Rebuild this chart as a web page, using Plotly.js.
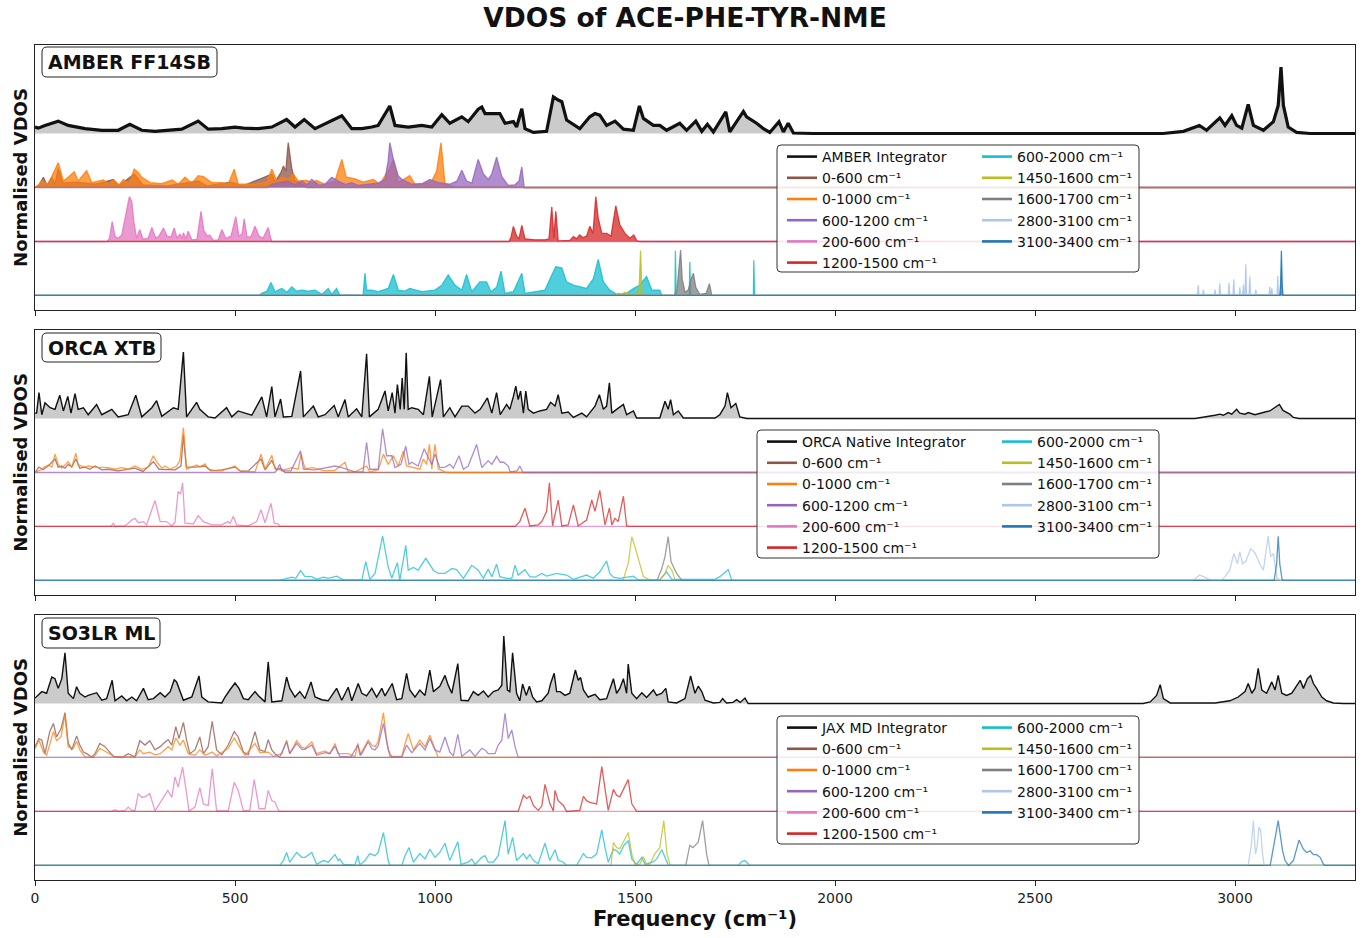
<!DOCTYPE html>
<html><head><meta charset="utf-8">
<script src="https://cdn.plot.ly/plotly-3.0.1.min.js"></script>
<style>html,body{margin:0;padding:0;background:#fff}#chart{width:1370px;height:938px}</style>
</head><body><div id="chart"></div>
<script>
// ---------------- DATA (frequency cm^-1, normalised VDOS) ----------------
const xTicks = [0, 500, 1000, 1500, 2000, 2500, 3000];
const panelNames = ['AMBER FF14SB', 'ORCA XTB', 'SO3LR ML'];
const integratorNames = ['AMBER Integrator', 'ORCA Native Integrator', 'JAX MD Integrator'];
const bandLabels = ['0-600 cm⁻¹', '0-1000 cm⁻¹', '600-1200 cm⁻¹', '200-600 cm⁻¹', '1200-1500 cm⁻¹',
  '600-2000 cm⁻¹', '1450-1600 cm⁻¹', '1600-1700 cm⁻¹', '2800-3100 cm⁻¹', '3100-3400 cm⁻¹'];
const bandColors = ['#8c564b', '#ff7f0e', '#9467bd', '#e377c2', '#d62728',
  '#17becf', '#bcbd22', '#7f7f7f', '#aec7e8', '#1f77b4'];

// ---- AMBER FF14SB ----
const amberIntegrator = [[0,0.12],[8,0.10],[25,0.15],[58,0.23],[83,0.15],[125,0.09],[167,0.06],[208,0.06],[237,0.17],[267,0.06],[300,0.04],[333,0.06],[367,0.08],[408,0.23],[433,0.08],[467,0.09],[500,0.12],[521,0.10],[558,0.09],[592,0.12],[629,0.26],[650,0.12],[673,0.26],[700,0.09],[737,0.23],[767,0.33],[792,0.09],[817,0.09],[842,0.12],[858,0.15],[887,0.51],[900,0.15],[933,0.12],[967,0.15],[992,0.12],[1017,0.35],[1037,0.19],[1067,0.31],[1083,0.22],[1108,0.45],[1117,0.49],[1125,0.37],[1146,0.37],[1162,0.37],[1175,0.19],[1196,0.22],[1204,0.12],[1217,0.46],[1225,0.09],[1246,0.02],[1279,0.04],[1296,0.68],[1308,0.62],[1317,0.59],[1329,0.25],[1362,0.09],[1387,0.31],[1400,0.37],[1412,0.34],[1429,0.15],[1450,0.23],[1471,0.08],[1496,0.06],[1511,0.51],[1521,0.28],[1546,0.15],[1562,0.15],[1579,0.06],[1612,0.19],[1629,0.06],[1652,0.23],[1667,0.04],[1681,0.17],[1696,0.03],[1727,0.40],[1737,0.03],[1771,0.41],[1779,0.31],[1804,0.19],[1821,0.09],[1837,0.02],[1860,0.22],[1871,0.03],[1883,0.19],[1896,0.01],[1946,0],[2820,0],[2871,0.04],[2911,0.15],[2929,0.06],[2962,0.29],[2975,0.15],[2992,0.33],[3004,0.15],[3017,0.10],[3033,0.54],[3046,0.15],[3071,0.06],[3096,0.22],[3108,0.52],[3115,1.23],[3121,0.52],[3133,0.12],[3154,0.02],[3188,0],[3300,0]];
const amber0_600 = [[0,0],[10,0.05],[21,0.19],[30,0.04],[42,0.19],[50,0.06],[58,0.35],[70,0.08],[100,0.1],[150,0.06],[196,0.15],[210,0.03],[248,0.25],[270,0.05],[330,0.03],[408,0.12],[430,0.03],[490,0.1],[520,0.03],[592,0.25],[600,0.1],[608,0.2],[615,0.28],[621,0.40],[627,0.3],[633,0.83],[638,0.5],[642,0.35],[650,0.12],[660,0.1],[680,0],[3300,0]];
const amber0_1000 = [[0,0],[10,0.05],[17,0.12],[33,0.06],[58,0.46],[71,0.12],[83,0.19],[98,0.29],[108,0.12],[129,0.31],[142,0.09],[171,0.14],[185,0.05],[196,0.14],[210,0.05],[221,0.15],[235,0.06],[248,0.34],[258,0.28],[267,0.19],[288,0.09],[317,0.07],[343,0.14],[358,0.06],[375,0.19],[392,0.08],[408,0.22],[421,0.2],[442,0.09],[467,0.09],[483,0.06],[498,0.34],[508,0.06],[550,0.06],[580,0.1],[592,0.34],[605,0.12],[617,0.19],[633,0.15],[646,0.25],[658,0.12],[680,0.13],[692,0.09],[704,0.13],[725,0.06],[750,0.12],[767,0.52],[778,0.19],[800,0.16],[820,0.1],[846,0.15],[862,0.06],[875,0.22],[887,0.35],[896,0.52],[908,0.09],[937,0.22],[950,0.06],[967,0.06],[992,0.12],[1004,0.3],[1015,0.83],[1025,0.06],[1050,0.01],[1200,0.01],[1225,0],[3300,0]];
const amber600_1200 = [[0,0],[580,0],[592,0.06],[608,0.09],[633,0.12],[650,0.05],[667,0.12],[680,0.05],[692,0.15],[710,0.04],[725,0.06],[742,0.19],[758,0.12],[775,0.06],[792,0.09],[808,0.04],[833,0.06],[858,0.08],[875,0.15],[883,0.49],[887,0.83],[896,0.52],[908,0.22],[917,0.15],[942,0.06],[967,0.07],[987,0.15],[1008,0.09],[1037,0.06],[1055,0.12],[1067,0.32],[1079,0.12],[1092,0.08],[1108,0.52],[1121,0.25],[1133,0.15],[1142,0.25],[1154,0.56],[1167,0.2],[1183,0.04],[1200,0.05],[1210,0.12],[1217,0.38],[1223,0],[3300,0]];
const amber200_600 = [[0,0],[180,0],[186,0.05],[193,0.37],[200,0.09],[208,0.06],[217,0.12],[227,0.49],[231,0.6],[236,0.83],[242,0.74],[247,0.37],[254,0.06],[262,0.22],[270,0.04],[283,0.06],[292,0.26],[302,0.06],[310,0.1],[321,0.25],[330,0.1],[340,0.08],[348,0.25],[355,0.06],[363,0.14],[368,0.05],[371,0.16],[377,0.05],[383,0.19],[392,0.03],[405,0.04],[415,0.56],[422,0.2],[431,0.1],[437,0.12],[446,0.02],[458,0.03],[467,0.22],[477,0.06],[490,0.1],[502,0.46],[510,0.09],[518,0.15],[523,0.42],[530,0.08],[540,0.09],[550,0.28],[560,0.1],[570,0.06],[583,0.26],[588,0.1],[592,0],[3300,0]];
const amber1200_1500 = [[0,0],[1185,0],[1190,0.08],[1196,0.28],[1204,0.1],[1210,0.05],[1217,0.3],[1225,0.05],[1250,0.03],[1275,0.03],[1285,0.05],[1292,0.64],[1297,0.06],[1302,0.56],[1308,0.01],[1337,0.02],[1346,0.09],[1354,0.05],[1362,0.12],[1370,0.07],[1379,0.1],[1387,0.28],[1395,0.15],[1402,0.83],[1408,0.43],[1417,0.15],[1429,0.15],[1440,0.1],[1452,0.66],[1462,0.31],[1475,0.15],[1487,0.06],[1497,0.12],[1505,0.01],[1512,0],[3300,0]];
const amber600_2000 = [[0,0],[560,0],[567,0.04],[580,0.08],[590,0.24],[600,0.07],[617,0.13],[630,0.06],[642,0.16],[654,0.08],[667,0.1],[683,0.08],[700,0.1],[717,0.02],[733,0.13],[742,0.02],[754,0.13],[762,0.01],[820,0],[825,0.41],[829,0.1],[842,0.1],[858,0.07],[883,0.13],[896,0.39],[908,0.1],[925,0.08],[937,0.13],[967,0.07],[1000,0.1],[1017,0.19],[1033,0.38],[1050,0.19],[1067,0.1],[1079,0.39],[1092,0.07],[1112,0.25],[1129,0.25],[1140,0.07],[1154,0.15],[1165,0.45],[1175,0.04],[1196,0.07],[1217,0.41],[1225,0.04],[1246,0.07],[1275,0.1],[1292,0.38],[1302,0.53],[1317,0.51],[1329,0.25],[1346,0.19],[1362,0.16],[1379,0.13],[1396,0.31],[1408,0.67],[1421,0.25],[1437,0.1],[1454,0.02],[1479,0.04],[1496,0.13],[1511,0.19],[1529,0.35],[1542,0.1],[1562,0.1],[1567,0],[1600,0],[1601,0.83],[1603,0],[1636,0],[1637,0.62],[1639,0],[1796,0],[1797,0.65],[1799,0],[3300,0]];
const amber1450_1600 = [[0,0],[1450,0],[1458,0.04],[1466,0.02],[1475,0.06],[1485,0.02],[1510,0.05],[1514,0.83],[1517,0.05],[1525,0],[3300,0]];
const amber1600_1700 = [[0,0],[1598,0],[1605,0.1],[1611,0.68],[1614,0.84],[1618,0.3],[1625,0.06],[1633,0.1],[1640,0.3],[1646,0.41],[1652,0.15],[1662,0.02],[1678,0.04],[1686,0.22],[1692,0],[3300,0]];
const amber2800_3100 = [[0,0],[2906,0],[2908,0.19],[2910,0],[2919,0],[2921,0.11],[2923,0],[2948,0],[2950,0.11],[2952,0],[2960,0],[2962,0.22],[2964,0],[2983,0],[2985,0.23],[2987,0],[2995,0],[2997,0.3],[2999,0],[3010,0],[3012,0.15],[3014,0],[3019,0],[3021,0.2],[3023,0],[3025,0],[3027,0.58],[3029,0],[3035,0],[3037,0.35],[3039,0],[3050,0],[3052,0.11],[3054,0],[3085,0],[3087,0.16],[3089,0],[3090,0],[3092,0.13],[3094,0],[3105,0],[3107,0.36],[3109,0],[3300,0]];
const amber3100_3400 = [[0,0],[3112,0],[3114,0.2],[3116,0.83],[3118,0.2],[3120,0],[3300,0]];

// ---- ORCA XTB ----
const orcaIntegrator = [[0,0.1],[4,0.1],[10,0.48],[17,0.07],[25,0.29],[38,0.2],[50,0.17],[62,0.43],[71,0.14],[82,0.41],[90,0.1],[100,0.46],[108,0.17],[121,0.2],[133,0.07],[154,0.26],[167,0.07],[192,0.17],[208,0.03],[233,0.07],[252,0.43],[267,0.03],[292,0.2],[304,0.33],[317,0.04],[346,0.2],[358,0.17],[371,1.23],[379,0.03],[404,0.3],[412,0.17],[433,0.03],[450,0.01],[479,0.2],[492,0.03],[508,0.14],[525,0.1],[542,0.06],[567,0.4],[579,0.03],[592,0.59],[600,0.03],[614,0.36],[621,0.03],[642,0.04],[664,0.88],[671,0.03],[696,0.23],[708,0.03],[725,0.07],[748,0.24],[758,0.03],[775,0.35],[783,0.03],[804,0.18],[817,0.03],[829,1.2],[836,0.03],[858,0.17],[875,0.51],[883,0.14],[893,0.48],[900,0.1],[906,0.63],[913,0.17],[918,0.75],[923,0.17],[928,1.22],[933,0.17],[942,0.2],[958,0.17],[971,0.07],[986,0.78],[993,0.03],[1014,0.72],[1021,0.03],[1037,0.2],[1050,0.03],[1067,0.23],[1083,0.23],[1100,0.1],[1113,0.17],[1131,0.38],[1142,0.1],[1154,0.48],[1163,0.07],[1179,0.26],[1187,0.17],[1196,0.41],[1202,0.6],[1208,0.35],[1214,0.51],[1221,0.1],[1227,0.51],[1233,0.17],[1246,0.1],[1262,0.14],[1279,0.17],[1289,0.3],[1300,0.23],[1308,0.44],[1317,0.1],[1333,0.12],[1346,0.02],[1367,0.1],[1379,0.03],[1400,0.23],[1411,0.44],[1421,0.17],[1429,0.23],[1436,0.66],[1442,0.1],[1454,0.17],[1471,0.26],[1479,0.07],[1496,0.14],[1504,0.01],[1562,0.01],[1575,0.32],[1583,0.17],[1589,0.35],[1596,0.07],[1608,0.14],[1621,0.01],[1700,0.01],[1712,0.07],[1725,0.23],[1731,0.48],[1740,0.2],[1752,0.28],[1762,0.03],[1780,0],[2900,0],[2929,0.03],[2950,0.06],[2962,0.08],[2971,0.06],[2983,0.11],[2992,0.08],[3004,0.17],[3012,0.1],[3025,0.08],[3033,0.11],[3050,0.07],[3062,0.1],[3075,0.12],[3087,0.14],[3100,0.2],[3111,0.26],[3120,0.15],[3129,0.12],[3137,0.08],[3146,0.02],[3160,0],[3300,0]];
const orca0_600 = [[0,0],[10,0.1],[20,0.05],[33,0.12],[50,0.25],[58,0.1],[67,0.12],[75,0.08],[83,0.15],[92,0.1],[102,0.25],[112,0.08],[125,0.1],[137,0.06],[150,0.12],[167,0.05],[183,0.06],[208,0.03],[250,0.08],[270,0.02],[296,0.2],[310,0.06],[350,0.05],[365,0.12],[371,0.7],[378,0.1],[400,0.1],[425,0.12],[440,0.03],[467,0.05],[500,0.1],[515,0.02],[533,0.03],[565,0.25],[575,0.05],[592,0.22],[603,0.05],[614,0.08],[625,0],[3300,0]];
const orca0_1000 = [[0,0],[15,0.05],[21,0.09],[33,0.14],[42,0.1],[50,0.34],[58,0.15],[67,0.08],[83,0.2],[92,0.1],[102,0.36],[108,0.14],[125,0.1],[133,0.12],[150,0.1],[160,0.1],[183,0.09],[200,0.06],[217,0.09],[233,0.06],[250,0.12],[267,0.06],[283,0.1],[296,0.31],[304,0.2],[317,0.08],[325,0.12],[338,0.06],[354,0.12],[362,0.22],[371,0.83],[379,0.06],[404,0.14],[412,0.1],[425,0.16],[433,0.06],[454,0.03],[467,0.03],[500,0.12],[512,0.03],[533,0.02],[550,0.01],[565,0.34],[575,0.06],[592,0.32],[600,0.07],[617,0.04],[642,0.09],[658,0.06],[665,0.34],[675,0.07],[696,0.09],[708,0.06],[725,0.03],[750,0.04],[775,0.19],[783,0.01],[800,0.01],[829,0.12],[837,0.01],[858,0.05],[871,0.34],[883,0.15],[896,0.31],[908,0.12],[921,0.4],[929,0.12],[950,0.09],[962,0.06],[971,0.25],[979,0.15],[986,0.52],[992,0.06],[1000,0.52],[1008,0.07],[1025,0.01],[1030,0],[3300,0]];
const orca600_1200 = [[0,0],[600,0],[605,0.05],[612,0.15],[617,0.03],[640,0.03],[664,0.4],[671,0.06],[700,0.05],[725,0.09],[750,0.12],[767,0.09],[800,0.01],[820,0.01],[829,0.56],[837,0.06],[858,0.06],[869,0.81],[879,0.31],[892,0.31],[900,0.09],[915,0.15],[927,0.49],[935,0.15],[942,0.19],[958,0.12],[973,0.44],[983,0.28],[992,0.15],[1000,0.34],[1012,0.09],[1025,0.1],[1037,0.15],[1046,0.08],[1060,0.31],[1071,0.06],[1083,0.12],[1104,0.52],[1117,0.09],[1133,0.22],[1142,0.15],[1154,0.3],[1163,0.19],[1172,0.19],[1183,0.12],[1188,0.01],[1205,0.03],[1212,0.12],[1220,0],[3300,0]];
const orca200_600 = [[0,0],[190,0],[196,0.06],[200,0],[225,0.01],[242,0.12],[250,0.15],[258,0.07],[271,0.09],[279,0.03],[300,0.48],[313,0.09],[329,0.09],[342,0.01],[350,0.08],[358,0.65],[364,0.6],[369,0.81],[375,0.06],[396,0.05],[408,0.2],[421,0.09],[442,0.03],[467,0.03],[482,0.09],[488,0.06],[496,0.19],[504,0.03],[533,0.01],[554,0.09],[565,0.31],[575,0.07],[590,0.43],[598,0.06],[608,0.05],[612,0],[3300,0]];
const orca1200_1500 = [[0,0],[1200,0],[1212,0.09],[1225,0.34],[1237,0.01],[1258,0.03],[1267,0.09],[1279,0.28],[1286,0.81],[1294,0.01],[1308,0.49],[1317,0.01],[1333,0.03],[1346,0.4],[1358,0.01],[1379,0.12],[1392,0.49],[1400,0.28],[1412,0.67],[1425,0.03],[1436,0.34],[1442,0.03],[1450,0.15],[1458,0.09],[1471,0.56],[1479,0.01],[1485,0],[3300,0]];
const orca600_2000 = [[0,0],[610,0],[621,0.02],[642,0.06],[652,0.04],[664,0.18],[675,0.07],[692,0.07],[704,0.02],[721,0.06],[733,0.04],[754,0.08],[771,0.01],[817,0.01],[827,0.35],[837,0.02],[850,0.13],[869,0.82],[883,0.25],[892,0.04],[906,0.33],[912,0],[927,0.65],[933,0.19],[946,0.24],[958,0.19],[977,0.41],[996,0.19],[1008,0.13],[1025,0.13],[1042,0.22],[1054,0.2],[1071,0.04],[1092,0.28],[1108,0.19],[1121,0.04],[1133,0.21],[1142,0.07],[1154,0.3],[1162,0.07],[1179,0.04],[1192,0.04],[1200,0.28],[1208,0.1],[1225,0.2],[1237,0.07],[1250,0.06],[1267,0.13],[1279,0.08],[1304,0.13],[1329,0.1],[1346,0.02],[1379,0.1],[1396,0.04],[1412,0.16],[1429,0.36],[1437,0.13],[1446,0.06],[1462,0.04],[1483,0.07],[1496,0.08],[1508,0.01],[1562,0.01],[1579,0.16],[1592,0.02],[1700,0.02],[1712,0.07],[1733,0.2],[1742,0],[3300,0]];
const orca1450_1600 = [[0,0],[1470,0],[1483,0.31],[1492,0.81],[1500,0.62],[1521,0.07],[1537,0.01],[1562,0.01],[1575,0.13],[1583,0.28],[1592,0.19],[1600,0.02],[1610,0],[3300,0]];
const orca1600_1700 = [[0,0],[1555,0],[1567,0.22],[1575,0.44],[1583,0.81],[1590,0.35],[1604,0.13],[1617,0],[3300,0]];
const orca2800_3100 = [[0,0],[2895,0],[2912,0.1],[2929,0.04],[2942,0],[2966,0],[2975,0.07],[2987,0.19],[2997,0.5],[3006,0.31],[3012,0.53],[3019,0.31],[3027,0.35],[3039,0.59],[3050,0.51],[3062,0.31],[3071,0.19],[3083,0.82],[3089,0.44],[3096,0.5],[3105,0.04],[3115,0],[3300,0]];
const orca3100_3400 = [[0,0],[3098,0],[3104,0.3],[3108,0.82],[3112,0.3],[3118,0],[3300,0]];

// ---- SO3LR ML ----
const so3lrIntegrator = [[0,0.1],[8,0.15],[17,0.22],[29,0.19],[42,0.49],[50,0.46],[58,0.28],[67,0.46],[75,0.94],[83,0.19],[96,0.09],[104,0.31],[112,0.19],[125,0.12],[133,0.15],[154,0.2],[167,0.06],[179,0.09],[193,0.43],[200,0.05],[217,0.14],[229,0.05],[242,0.12],[254,0.05],[271,0.28],[283,0.07],[296,0.09],[313,0.2],[325,0.12],[338,0.22],[348,0.44],[354,0.4],[362,0.25],[371,0.06],[392,0.12],[410,0.51],[417,0.12],[433,0.03],[467,0.01],[475,0.12],[487,0.25],[500,0.38],[510,0.28],[521,0.09],[533,0.07],[550,0.22],[558,0.15],[575,0.03],[583,0.77],[592,0.03],[617,0.05],[629,0.49],[637,0.28],[650,0.12],[662,0.22],[675,0.09],[690,0.4],[700,0.12],[717,0.07],[733,0.05],[754,0.28],[767,0.06],[783,0.3],[792,0.05],[808,0.37],[817,0.19],[829,0.14],[842,0.28],[854,0.12],[867,0.28],[875,0.14],[883,0.25],[893,0.37],[904,0.07],[917,0.09],[929,0.56],[937,0.25],[950,0.12],[962,0.25],[975,0.15],[987,0.62],[996,0.22],[1012,0.32],[1025,0.52],[1033,0.34],[1042,0.19],[1057,0.74],[1065,0.06],[1083,0.05],[1096,0.22],[1108,0.15],[1121,0.23],[1133,0.12],[1146,0.22],[1158,0.25],[1167,0.34],[1172,1.25],[1181,0.25],[1187,0.22],[1194,0.94],[1204,0.19],[1212,0.05],[1219,0.36],[1228,0.15],[1236,0.32],[1244,0.12],[1254,0.03],[1267,0.05],[1283,0.19],[1289,0.37],[1298,0.56],[1304,0.22],[1313,0.22],[1325,0.15],[1337,0.19],[1351,0.62],[1358,0.43],[1364,0.48],[1371,0.25],[1383,0.12],[1400,0.17],[1412,0.07],[1429,0.09],[1446,0.46],[1454,0.19],[1462,0.28],[1471,0.46],[1479,0.19],[1483,0.73],[1492,0.19],[1504,0.09],[1517,0.2],[1529,0.11],[1546,0.25],[1554,0.15],[1567,0.19],[1577,0.28],[1583,0.03],[1604,0.01],[1625,0.09],[1639,0.51],[1650,0.19],[1658,0.32],[1667,0.22],[1675,0.06],[1696,0.01],[1712,0.02],[1719,0.09],[1729,0.01],[1745,0.02],[1754,0.07],[1763,0.02],[1775,0.1],[1783,0],[2770,0],[2788,0.03],[2804,0.15],[2813,0.35],[2821,0.09],[2838,0.01],[2950,0.01],[2987,0.05],[3008,0.12],[3025,0.22],[3033,0.37],[3042,0.19],[3050,0.28],[3058,0.65],[3067,0.25],[3079,0.19],[3092,0.4],[3100,0.25],[3108,0.52],[3117,0.19],[3129,0.15],[3142,0.19],[3154,0.34],[3163,0.43],[3171,0.28],[3181,0.46],[3189,0.52],[3196,0.37],[3204,0.28],[3217,0.12],[3229,0.05],[3246,0.01],[3271,0],[3300,0]];
const so3lr0_600 = [[0,0.2],[10,0.35],[17,0.32],[25,0.07],[37,0.48],[46,0.63],[54,0.38],[65,0.53],[75,0.83],[83,0.26],[92,0.14],[104,0.4],[112,0.23],[121,0.1],[129,0.07],[142,0.01],[150,0.07],[162,0.26],[175,0.2],[185,0.12],[196,0.02],[217,0],[233,0.07],[250,0.01],[262,0.31],[275,0.23],[287,0.31],[300,0.14],[313,0.2],[321,0.26],[333,0.33],[342,0.23],[352,0.57],[360,0.35],[371,0.65],[379,0.32],[387,0.07],[400,0.14],[412,0.38],[421,0.07],[433,0.2],[443,0.67],[454,0.14],[467,0.05],[483,0.23],[498,0.48],[508,0.38],[521,0.1],[533,0.05],[550,0.48],[562,0.14],[575,0.11],[583,0.33],[592,0.14],[600,0.07],[612,0],[3300,0]];
const so3lr0_1000 = [[0,0.16],[10,0.32],[21,0.1],[29,0.04],[46,0.48],[54,0.31],[65,0.38],[75,0.79],[83,0.2],[96,0.17],[104,0.3],[112,0.14],[125,0.01],[146,0],[162,0.17],[175,0.12],[188,0.07],[200,0.01],[250,0.01],[262,0.14],[271,0.07],[287,0.1],[300,0.05],[313,0.07],[333,0.2],[342,0.14],[352,0.36],[362,0.23],[371,0.32],[383,0.07],[400,0.04],[412,0.14],[425,0.04],[443,0.1],[454,0.03],[483,0.17],[498,0.36],[512,0.2],[525,0.04],[550,0.26],[562,0.09],[583,0.1],[596,0.02],[617,0.07],[629,0.32],[637,0.07],[654,0.31],[667,0.19],[675,0.17],[692,0.29],[704,0.07],[725,0.12],[737,0.07],[750,0.26],[758,0.07],[783,0.07],[800,0.01],[807,0.26],[812,0.04],[833,0.32],[842,0.23],[850,0.2],[858,0.29],[871,0.83],[879,0.32],[887,0.02],[917,0.02],[925,0.25],[933,0.44],[946,0.14],[962,0.32],[975,0.2],[987,0.41],[996,0.23],[1008,0],[3300,0]];
const so3lr600_1200 = [[0,0],[600,0],[612,0.01],[629,0.29],[637,0.07],[654,0.26],[667,0.15],[675,0.15],[692,0.23],[704,0.04],[725,0.09],[737,0.07],[750,0.21],[762,0.02],[790,0.01],[807,0.23],[815,0.04],[833,0.29],[842,0.16],[850,0.14],[858,0.22],[871,0.63],[883,0.14],[892,0.01],[917,0.01],[929,0.23],[942,0.09],[962,0.26],[975,0.14],[987,0.35],[1000,0.14],[1012,0.1],[1025,0.38],[1037,0.1],[1046,0.03],[1057,0.43],[1067,0.02],[1087,0.14],[1100,0.02],[1117,0.17],[1125,0.14],[1133,0.07],[1150,0.07],[1158,0.23],[1167,0.32],[1175,0.82],[1183,0.35],[1192,0.51],[1200,0.2],[1208,0],[3300,0]];
const so3lr200_600 = [[0,0],[190,0],[200,0.03],[208,0],[225,0.02],[233,0.08],[242,0.02],[250,0.02],[258,0.33],[267,0.26],[277,0.28],[287,0.33],[300,0.01],[308,0.1],[317,0.2],[332,0.39],[342,0.26],[350,0.64],[358,0.45],[369,0.82],[379,0.33],[385,0.01],[400,0.08],[412,0.44],[421,0.14],[433,0.11],[443,0.79],[454,0.01],[483,0.01],[498,0.54],[508,0.39],[521,0.01],[537,0.02],[548,0.59],[560,0.05],[575,0.05],[583,0.39],[592,0.2],[600,0.17],[610,0],[3300,0]];
const so3lr1200_1500 = [[0,0],[1208,0],[1221,0.3],[1229,0.24],[1237,0.28],[1246,0.11],[1258,0.02],[1267,0.1],[1275,0.5],[1287,0.15],[1296,0.01],[1300,0.39],[1308,0.2],[1321,0.11],[1329,0],[1362,0.02],[1371,0.28],[1379,0.2],[1387,0.17],[1404,0.14],[1417,0.83],[1425,0.39],[1433,0.02],[1446,0.41],[1454,0.3],[1462,0.27],[1472,0.42],[1483,0.59],[1492,0.14],[1504,0],[3300,0]];
const so3lr600_2000 = [[0,0],[612,0],[621,0.09],[629,0.24],[637,0.06],[654,0.24],[667,0.15],[675,0.15],[692,0.24],[704,0.02],[721,0.09],[733,0.06],[750,0.2],[758,0.09],[762,0.12],[771,0.02],[800,0.01],[807,0.18],[812,0.01],[825,0.09],[837,0.22],[850,0.18],[858,0.24],[871,0.61],[883,0.09],[887,0],[917,0],[925,0.18],[935,0.33],[946,0.06],[962,0.22],[975,0.12],[987,0.3],[1000,0.15],[1012,0.24],[1025,0.41],[1037,0.09],[1057,0.44],[1065,0.02],[1083,0.06],[1092,0.12],[1100,0.02],[1117,0.15],[1125,0.18],[1133,0.06],[1146,0.06],[1158,0.18],[1175,0.83],[1183,0.21],[1194,0.52],[1204,0.09],[1221,0.22],[1229,0.12],[1237,0.2],[1246,0.09],[1258,0.03],[1275,0.41],[1287,0.09],[1300,0.29],[1308,0.1],[1321,0.06],[1329,0],[1354,0],[1371,0.22],[1379,0.15],[1392,0.14],[1404,0.21],[1417,0.66],[1425,0.33],[1433,0.06],[1446,0.3],[1454,0.27],[1462,0.21],[1472,0.37],[1483,0.46],[1492,0.12],[1504,0.02],[1517,0.15],[1525,0.02],[1546,0.07],[1554,0.12],[1567,0.29],[1575,0.15],[1583,0.01],[1600,0],[1758,0],[1767,0.07],[1775,0.09],[1783,0.03],[1787,0],[3300,0]];
const so3lr1450_1600 = [[0,0],[1440,0],[1446,0.43],[1454,0.33],[1462,0.31],[1472,0.46],[1483,0.61],[1492,0.21],[1500,0.02],[1512,0.02],[1521,0.16],[1529,0.02],[1537,0.02],[1550,0.22],[1562,0.33],[1572,0.83],[1580,0.21],[1588,0],[3300,0]];
const so3lr1600_1700 = [[0,0],[1627,0],[1637,0.37],[1645,0.33],[1658,0.43],[1669,0.83],[1679,0.21],[1685,0],[3300,0]];
const so3lr2800_3100 = [[0,0],[3033,0],[3040,0.33],[3046,0.83],[3051,0.21],[3055,0.33],[3060,0.71],[3064,0.65],[3069,0.21],[3073,0],[3300,0]];
const so3lr3100_3400 = [[0,0],[3088,0],[3096,0.33],[3108,0.83],[3119,0.27],[3125,0.09],[3134,0],[3146,0.09],[3160,0.47],[3171,0.3],[3179,0.24],[3188,0.27],[3196,0.2],[3204,0.2],[3213,0.15],[3221,0.02],[3225,0],[3300,0]];

// ---------------- BUILD ----------------
const panels = [
  {integrator: amberIntegrator, bands: [amber0_600, amber0_1000, amber600_1200, amber200_600, amber1200_1500, amber600_2000, amber1450_1600, amber1600_1700, amber2800_3100, amber3100_3400], dense: true},
  {integrator: orcaIntegrator, bands: [orca0_600, orca0_1000, orca600_1200, orca200_600, orca1200_1500, orca600_2000, orca1450_1600, orca1600_1700, orca2800_3100, orca3100_3400], dense: false},
  {integrator: so3lrIntegrator, bands: [so3lr0_600, so3lr0_1000, so3lr600_1200, so3lr200_600, so3lr1200_1500, so3lr600_2000, so3lr1450_1600, so3lr1600_1700, so3lr2800_3100, so3lr3100_3400], dense: false}
];
const bandRow = [2, 2, 2, 1, 1, 0, 0, 0, 0, 0];
const XMAX = 3300;

function rgba(hex, a) {
  const n = parseInt(hex.slice(1), 16);
  return `rgba(${(n >> 16) & 255},${(n >> 8) & 255},${n & 255},${a})`;
}

const traces = [];
panels.forEach((p, i) => {
  const xa = i === 0 ? 'x' : 'x' + (i + 1);
  const ya = i === 0 ? 'y' : 'y' + (i + 1);
  const legL = 'legend' + (2 * i + 1 === 1 ? '' : (2 * i + 1));
  const legR = 'legend' + (2 * i + 2);
  traces.push({x: [0, XMAX], y: [3, 3], xaxis: xa, yaxis: ya, mode: 'lines', line: {width: 0, color: 'rgba(0,0,0,0)'}, showlegend: false, hoverinfo: 'skip'});
  traces.push({x: p.integrator.map(d => d[0]), y: p.integrator.map(d => d[1] + 3), xaxis: xa, yaxis: ya, mode: 'lines',
    line: {color: '#111', width: p.dense ? 3.2 : 1.4}, fill: 'tonexty', fillcolor: '#cbcbcb', showlegend: false, hoverinfo: 'skip'});
  p.bands.forEach((b, k) => {
    const off = bandRow[k];
    const t = {x: b.map(d => d[0]), y: b.map(d => d[1] + off), xaxis: xa, yaxis: ya, mode: 'lines', showlegend: false, hoverinfo: 'skip'};
    if (p.dense) {
      t.line = {color: rgba(bandColors[k], 0.85), width: 1.3};
      t.fill = 'toself';
      t.fillcolor = rgba(bandColors[k], 0.75);
    } else {
      t.line = {color: rgba(bandColors[k], 0.75), width: 1.3};
    }
    traces.push(t);
  });
  traces.push({x: [null], y: [null], xaxis: xa, yaxis: ya, mode: 'lines', name: integratorNames[i], legend: legL, line: {color: '#111', width: 2.6}, hoverinfo: 'skip'});
  bandLabels.forEach((lab, k) => {
    traces.push({x: [null], y: [null], xaxis: xa, yaxis: ya, mode: 'lines', name: lab, legend: k < 5 ? legL : legR,
      line: {color: bandColors[k], width: 2.6}, hoverinfo: 'skip'});
  });
});

const FONT = 'DejaVu Sans, sans-serif';
const yRange = [-0.27, 4.64];
const domains = [[0.6826, 1], [0.3413, 0.6587], [0, 0.3174]];

function xAxis(i) {
  return {domain: [0, 1], range: [0, XMAX], anchor: i === 0 ? 'y' : 'y' + (i + 1), tickvals: xTicks, ticktext: xTicks.map(String),
    ticks: 'outside', ticklen: 5, tickwidth: 1, tickcolor: '#222', showticklabels: i === 2,
    tickfont: {family: FONT, size: 14, color: '#222'}, showline: true, mirror: true, linecolor: '#222', linewidth: 1,
    showgrid: false, zeroline: false,
    title: i === 2 ? {text: '<b>Frequency (cm⁻¹)</b>', font: {family: FONT, size: 21, color: '#111'}, standoff: 6} : {text: ''}};
}
function yAxis(i) {
  return {domain: domains[i], range: yRange, anchor: i === 0 ? 'x' : 'x' + (i + 1), showticklabels: false, ticks: '',
    showline: true, mirror: true, linecolor: '#222', linewidth: 1, showgrid: false, zeroline: false, automargin: false,
    title: {text: '<b>Normalised VDOS</b>', font: {family: FONT, size: 18, color: '#111'}, standoff: 1}};
}

function px(x) { return (x - 35) / 1320; }
function py(y) { return (880 - y) / 835; }
function roundRect(x0, y0, x1, y1, r) {
  const X0 = px(x0), X1 = px(x1), Y0 = py(y1), Y1 = py(y0);
  const rx = r / 1320, ry = r / 835;
  return `M${X0 + rx},${Y0} L${X1 - rx},${Y0} Q${X1},${Y0} ${X1},${Y0 + ry} L${X1},${Y1 - ry} Q${X1},${Y1} ${X1 - rx},${Y1} ` +
         `L${X0 + rx},${Y1} Q${X0},${Y1} ${X0},${Y1 - ry} L${X0},${Y0 + ry} Q${X0},${Y0} ${X0 + rx},${Y0} Z`;
}

const legendBoxes = [[777, 145, 1139, 272], [757, 430, 1159, 558], [777, 716, 1139, 844]];
const labelBoxes = [[42, 47, 217, 77], [42, 333, 161, 362], [42, 618, 160, 648]];
const shapes = [];
legendBoxes.forEach(b => shapes.push({type: 'path', xref: 'paper', yref: 'paper', path: roundRect(b[0], b[1], b[2], b[3], 4),
  fillcolor: 'rgba(255,255,255,0.85)', line: {color: '#333', width: 1}, layer: 'above'}));
labelBoxes.forEach(b => shapes.push({type: 'path', xref: 'paper', yref: 'paper', path: roundRect(b[0], b[1], b[2], b[3], 5),
  fillcolor: '#ffffff', line: {color: '#222', width: 1}, layer: 'above'}));

const annotations = labelBoxes.map((b, i) => ({xref: 'paper', yref: 'paper', x: px((b[0] + b[2]) / 2), y: py((b[1] + b[3]) / 2),
  xanchor: 'center', yanchor: 'middle', showarrow: false, text: '<b>' + panelNames[i] + '</b>',
  font: {family: FONT, size: 19, color: '#111'}}));

function leg(xp, ytop) {
  return {x: px(xp), y: py(ytop), xanchor: 'left', yanchor: 'top', orientation: 'v', bgcolor: 'rgba(0,0,0,0)', borderwidth: 0,
    font: {family: FONT, size: 14, color: '#111'}, itemwidth: 30, tracegroupgap: 0, traceorder: 'normal'};
}

const layout = {
  width: 1370, height: 938, paper_bgcolor: '#fff', plot_bgcolor: '#fff',
  margin: {l: 35, r: 15, t: 45, b: 58},
  font: {family: FONT, color: '#111'},
  title: {text: '<b>VDOS of ACE-PHE-TYR-NME</b>', font: {family: FONT, size: 26.5, color: '#111'}, x: 0.5, xref: 'container', xanchor: 'center', y: 1 - 18 / 938, yref: 'container', yanchor: 'middle'},
  xaxis: xAxis(0), xaxis2: xAxis(1), xaxis3: xAxis(2),
  yaxis: yAxis(0), yaxis2: yAxis(1), yaxis3: yAxis(2),
  legend: leg(782, 141), legend2: leg(977, 141),
  legend3: leg(762, 426), legend4: leg(997, 426),
  legend5: leg(782, 712), legend6: leg(977, 712),
  shapes: shapes, annotations: annotations, showlegend: true
};

Plotly.newPlot('chart', traces, layout, {displayModeBar: false, staticPlot: true});
</script></body></html>
